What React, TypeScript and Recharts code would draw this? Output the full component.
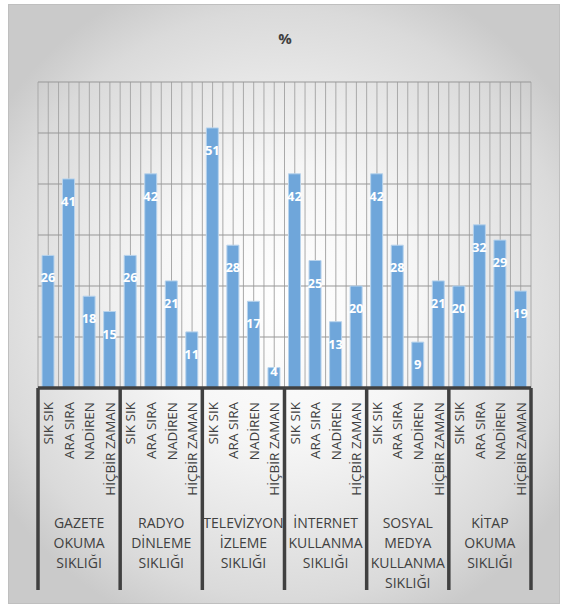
import React from "react";
import { BarChart, Bar, XAxis, YAxis, CartesianGrid, LabelList } from "recharts";

const answers = ["SIK SIK", "ARA SIRA", "NADİREN", "HİÇBİR ZAMAN"];
const groupLabels = [
  ["GAZETE", "OKUMA", "SIKLIĞI"],
  ["RADYO", "DİNLEME", "SIKLIĞI"],
  ["TELEVİZYON", "İZLEME", "SIKLIĞI"],
  ["İNTERNET", "KULLANMA", "SIKLIĞI"],
  ["SOSYAL", "MEDYA", "KULLANMA", "SIKLIĞI"],
  ["KİTAP", "OKUMA", "SIKLIĞI"],
];
const gazete = [26, 41, 18, 15];
const radyo = [26, 42, 21, 11];
const televizyon = [51, 28, 17, 4];
const internet = [42, 25, 13, 20];
const sosyal = [42, 28, 9, 21];
const kitap = [20, 32, 29, 19];
const yTicks = [0, 10, 20, 30, 40, 50, 60];

const groupValues = [gazete, radyo, televizyon, internet, sosyal, kitap];
const data = groupValues.flatMap((vals, g) =>
  vals.map((v, i) => ({ key: `${g}-${i}`, answer: answers[i], group: g, value: v }))
);

const W = 563;
const H = 608;
const M = { top: 82, right: 32, bottom: 20, left: 38 };
const AXIS_H = 200;
const N = data.length;
const PLOT_W = W - M.left - M.right;
const BAND = PLOT_W / N;
const FONT = "'Open Sans', 'Noto Sans', sans-serif";
const TEXT = "#404040";

const CategoryTick = (props: any) => {
  const { x, y, payload } = props;
  const i = payload.index;
  const item = data[i];
  const els: any[] = [];
  els.push(
    <text
      key="t"
      transform={`translate(${x}, ${y + 14}) rotate(-90)`}
      textAnchor="end"
      dominantBaseline="central"
      fontSize={13.5}
      fontFamily={FONT}
      fill={TEXT}
    >
      {item.answer}
    </text>
  );
  if (i % 4 === 0) {
    const left = x - BAND / 2;
    els.push(
      <line key="s" x1={left} x2={left} y1={y} y2={y + 202} stroke="#404040" strokeWidth={3.5} />
    );
    const gx = x + 1.5 * BAND;
    groupLabels[item.group].forEach((ln, k) => {
      els.push(
        <text
          key={"g" + k}
          x={gx}
          y={y + 134 + k * 20}
          textAnchor="middle"
          dominantBaseline="central"
          fontSize={14}
          fontFamily={FONT}
          fill={TEXT}
        >
          {ln}
        </text>
      );
    });
  }
  if (i === N - 1) {
    const right = x + BAND / 2;
    els.push(
      <line key="e" x1={right} x2={right} y1={y} y2={y + 202} stroke="#404040" strokeWidth={3.5} />
    );
  }
  return <g>{els}</g>;
};

const ValueLabel = (props: any) => {
  const { x, y, width, height, value } = props;
  const dy = Math.min(22, height - 17);
  return (
    <text
      x={x + width / 2}
      y={y + dy}
      textAnchor="middle"
      dominantBaseline="central"
      fill="#ffffff"
      fontWeight="bold"
      fontSize={13}
      fontFamily={FONT}
    >
      {value}
    </text>
  );
};

export default function App() {
  return (
    <div style={{ position: "absolute", left: 0, top: 0, width: W, height: H, background: "#ffffff" }}>
      <div
        style={{
          position: "absolute",
          left: 8,
          top: 4,
          width: 550,
          height: 598,
          border: "1px solid #bfbfbf",
          background:
            "radial-gradient(ellipse 62% 58% at 50% 50%, #ffffff 0%, #f6f6f6 40%, #dadada 85%, #cacaca 100%)",
        }}
      />
      <div
        style={{
          position: "absolute",
          left: 0,
          top: 28,
          width: 570,
          textAlign: "center",
          fontFamily: FONT,
          fontWeight: "bold",
          fontSize: 15,
          color: TEXT,
        }}
      >
        %
      </div>
      <div style={{ position: "absolute", left: 0, top: 0 }}>
        <BarChart width={W} height={H} data={data} margin={M} barCategoryGap={0}>
          <CartesianGrid
            horizontal={false}
            stroke="#a9a9a9"
            verticalCoordinatesGenerator={({ offset }: any) =>
              Array.from({ length: 2 * N + 1 }, (_, k) => offset.left + (k * offset.width) / (2 * N))
            }
          />
          <CartesianGrid vertical={false} stroke="#979797" />
          <YAxis hide domain={[0, 60]} ticks={yTicks} />
          <XAxis
            dataKey="key"
            interval={0}
            height={AXIS_H}
            tickLine={false}
            tickSize={0}
            tickMargin={0}
            axisLine={{ stroke: "#404040", strokeWidth: 3.5 }}
            tick={<CategoryTick />}
          />
          <Bar
            dataKey="value"
            barSize={12}
            fill="#6fa6da"
            stroke="#b8d3ec"
            strokeWidth={1}
            isAnimationActive={false}
          >
            <LabelList dataKey="value" content={<ValueLabel />} />
          </Bar>
        </BarChart>
      </div>
    </div>
  );
}
